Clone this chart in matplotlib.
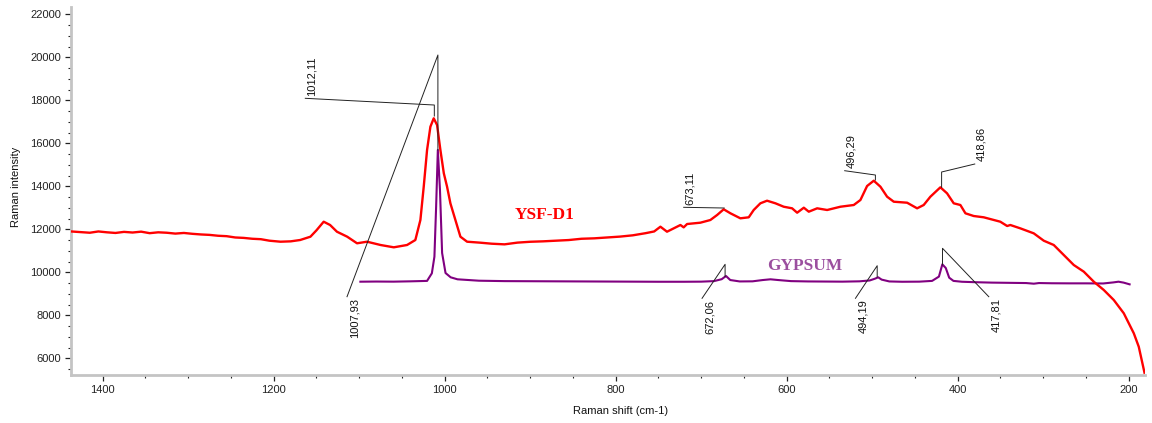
import matplotlib
matplotlib.use("Agg")
import matplotlib.pyplot as plt
from matplotlib.ticker import MultipleLocator

# ---- data ----
ysf_shift = [1437, 1425, 1415, 1405, 1395, 1385, 1375, 1365, 1355, 1345, 1335, 1325,
             1315, 1305, 1295, 1285, 1275, 1265, 1255, 1245, 1235, 1225, 1215, 1205,
             1192, 1180, 1169, 1157, 1150, 1141.5, 1134, 1126, 1114, 1102.5, 1090.8,
             1075, 1059.5, 1044, 1034.3, 1028.4, 1024.5, 1020.6, 1016.7, 1012.8, 1008.9,
             1005, 1001, 997.2, 993.3, 987.5, 981.6, 973.8, 958.2, 945, 930, 915, 900,
             885, 870, 855, 840, 825, 810, 795, 780, 765, 755, 747.7, 740, 732.2, 724.3,
             720.5, 716.5, 701, 689.3, 681.4, 673.7, 665.8, 654.2, 644.4, 638.6, 630.8,
             623, 613.2, 603.5, 593.7, 587.8, 580, 574.2, 564.4, 552.7, 537.2, 521.6,
             513.8, 506, 498.2, 490.4, 482.6, 474.8, 459.2, 447.5, 439.8, 432, 420.3,
             412.5, 404.7, 396.9, 391, 381.3, 369.6, 357.9, 350.2, 342.2, 338.5, 326.8,
             311.1, 299.4, 287.7, 276, 264.3, 252.6, 240.9, 229.2, 217.5, 205.8, 194.1,
             188.3, 181.6]
ysf_int = [11900, 11870, 11840, 11900, 11860, 11830, 11880, 11850, 11890, 11820, 11860, 11840,
           11800, 11830, 11790, 11760, 11740, 11700, 11680, 11620, 11600, 11560, 11540, 11470,
           11423, 11440, 11502, 11656, 11950, 12353, 12200, 11888, 11656, 11349, 11423,
           11270, 11162, 11270, 11502, 12432, 13981, 15688, 16772, 17162, 16851,
           15688, 14604, 13981, 13207, 12432, 11656, 11423, 11377, 11330, 11300, 11380, 11420,
           11440, 11470, 11500, 11560, 11580, 11620, 11660, 11720, 11820, 11900, 12121, 11888,
           12044, 12200, 12090, 12246, 12307, 12432, 12665, 12930, 12744, 12511, 12558, 12898,
           13209, 13330, 13209, 13050, 12976, 12772, 13005, 12819, 12976, 12898, 13050, 13130,
           13363, 14014, 14260, 13981, 13516, 13283, 13237, 12976, 13130, 13516, 13953,
           13674, 13209, 13130, 12744, 12618, 12558, 12432, 12353, 12153, 12200, 12044,
           11812, 11470, 11270, 10805, 10339, 10030, 9563, 9177, 8711, 8093, 7163,
           6539, 5330]

gyp_shift = [1098.6, 1080, 1060, 1040, 1030, 1020.6, 1015, 1012, 1010, 1008, 1005.5, 1003,
             999, 993, 985, 960, 930, 900, 870, 840, 810, 780, 750, 720, 700, 685,
             676, 671, 666, 655, 640, 628, 619, 610, 595, 575, 555, 535, 515, 503,
             497, 493, 489, 480, 465, 445, 430, 422, 418, 414, 410, 405, 395, 380,
             360, 340, 320, 311, 305, 290, 270, 250, 230, 218, 212, 206, 199]
gyp_int = [9563, 9570, 9565, 9580, 9590, 9600, 9953, 10725, 13050, 15690, 13828, 10897,
           9967, 9767, 9674, 9609, 9590, 9585, 9580, 9575, 9570, 9565, 9560, 9560, 9565, 9590,
           9680, 9828, 9640, 9575, 9580, 9640, 9674, 9640, 9590, 9575, 9570, 9565, 9580, 9620,
           9700, 9767, 9660, 9575, 9560, 9565, 9600, 9800, 10370, 10200, 9750, 9600, 9560, 9540,
           9520, 9510, 9500, 9470, 9500, 9490, 9486, 9486, 9480, 9530, 9563, 9520, 9440]

# peak labels: line start (label) -> elbow/apex above peak -> peak
ysf_labels = ["1012,11", "673,11", "496,29", "418,86"]
ysf_lab_x = [1163, 720.5, 532.2, 380.1]
ysf_lab_y = [18093, 13023, 14725, 15037]
ysf_peak_x = [1012.11, 673.11, 496.29, 418.86]
ysf_elbow_y = [17781, 12990, 14525, 14665]
ysf_peak_y = [17269, 12990, 14293, 13953]

gyp_labels = ["1007,93", "672,06", "494,19", "417,81"]
gyp_lab_x = [1114.2, 699, 519.6, 363.7]
gyp_lab_y = [8865, 8790, 8790, 8865]
gyp_peak_x = [1007.93, 672.06, 494.19, 417.81]
gyp_apex_y = [20107, 10372, 10307, 11116]
gyp_peak_y = [15688, 9795, 9781, 10339]

x_ticks = [1400, 1200, 1000, 800, 600, 400, 200]
y_ticks = [6000, 8000, 10000, 12000, 14000, 16000, 18000, 20000, 22000]

# ---- figure ----
W, H = 1152, 423
fig = plt.figure(figsize=(W / 100, H / 100), dpi=100)
ax = fig.add_axes([71 / W, 1 - 375 / H, (1145 - 71) / W, (375 - 7) / H])

ax.plot(ysf_shift, ysf_int, color="#ff0000", lw=1.7, zorder=3)
ax.plot(gyp_shift, gyp_int, color="#800080", lw=1.5, zorder=2)

for lab, lx, ly, px, ey, py in zip(ysf_labels, ysf_lab_x, ysf_lab_y, ysf_peak_x, ysf_elbow_y, ysf_peak_y):
    ax.plot([lx, px, px], [ly, ey, py], color="#222222", lw=0.7, zorder=4)
    ax.annotate(lab, (lx, ly), xytext=(1, 2), textcoords="offset points",
                rotation=90, ha="left", va="bottom", fontsize=8,
                family="Liberation Sans", color="#111111")

for lab, lx, ly, px, ay, py in zip(gyp_labels, gyp_lab_x, gyp_lab_y, gyp_peak_x, gyp_apex_y, gyp_peak_y):
    ax.plot([lx, px, px], [ly, ay, py], color="#222222", lw=0.7, zorder=4)
    ax.annotate(lab, (lx, ly), xytext=(2, -1), textcoords="offset points",
                rotation=90, ha="left", va="top", fontsize=8,
                family="Liberation Sans", color="#111111")

ax.text(883, 12665, "YSF-D1", color="#ff0000", fontsize=12.5, fontweight="bold",
        family="Liberation Serif", ha="center", va="center")
ax.text(579, 10293, "GYPSUM", color="#9b4f9f", fontsize=12.5, fontweight="bold",
        family="Liberation Serif", ha="center", va="center")

ax.set_xlim(1437, 181)
ax.set_ylim(5223, 22340)
ax.set_xticks(x_ticks)
ax.set_yticks(y_ticks)
ax.xaxis.set_minor_locator(MultipleLocator(50))
ax.yaxis.set_minor_locator(MultipleLocator(500))

for s in ["top", "right"]:
    ax.spines[s].set_visible(False)
for s in ["left", "bottom"]:
    ax.spines[s].set_color("#c4c4c4")
    ax.spines[s].set_linewidth(2)

ax.tick_params(which="major", length=4, width=0.9, color="#222222", direction="out",
               labelsize=8, labelcolor="#222222", pad=3)
ax.tick_params(which="minor", length=2.5, width=0.8, color="#222222", direction="out")
for t in ax.get_xticklabels() + ax.get_yticklabels():
    t.set_family("Liberation Sans")

ax.set_xlabel("Raman shift (cm-1)", fontsize=8, family="Liberation Sans", color="#111111")
ax.set_ylabel("Raman intensity", fontsize=8, family="Liberation Sans", color="#111111")
ax.xaxis.set_label_coords(0.512, -0.085)
ax.yaxis.set_label_coords(-0.047, 0.51)

fig.savefig("out.png", dpi=100)
